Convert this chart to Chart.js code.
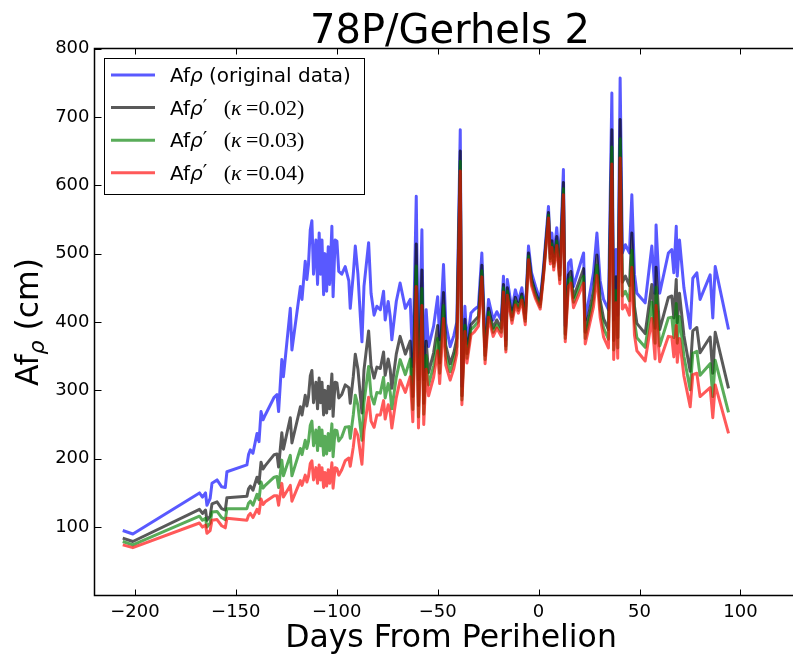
<!DOCTYPE html>
<html>
<head>
<meta charset="utf-8">
<title>78P/Gerhels 2</title>
<script src="https://cdn.jsdelivr.net/npm/chart.js@4.4.0/dist/chart.umd.min.js"></script>
<style>
html, body { margin: 0; padding: 0; background: #fff; overflow: hidden; }
canvas { display: block; }
</style>
</head>
<body>
<canvas id="myChart" width="820" height="656"></canvas>
<script>
// days from perihelion
const days = [-206,-201,-168,-166.5,-165,-164.3,-162.7,-161.8,-159.3,-157,
  -155.2,-154.4,-144.5,-143.7,-142.8,-141.5,-139.5,-138.5,-137.5,-136.5,
  -135.4,-131,-129.6,-128.8,-127.2,-126.4,-123,-122.2,-118,-117.2,
  -115.6,-114.8,-114,-113.1,-112.3,-111.5,-110.3,-109.5,-108.7,-108,
  -107.3,-106.5,-105.8,-105,-104.2,-103.5,-102.4,-101.8,-100.8,-99.9,
  -99,-97.5,-95.8,-94,-93.3,-91.8,-90.8,-89.5,-88.3,-87.5,
  -86.5,-84.2,-83,-81.5,-80.1,-78.4,-76.8,-76,-74.5,-73.5,
  -72.7,-70.5,-68.6,-66,-63.6,-62.3,-60.6,-59.5,-57.8,-56.9,
  -55.7,-54.5,-52,-50,-49,-47.1,-46,-43.8,-42,-40.5,
  -38.8,-38,-36.5,-35.5,-33.5,-32,-29.8,-28.1,-26.5,-24.8,
  -22.5,-20.7,-18.5,-17.4,-16.2,-15.5,-13.2,-11.5,-10,-8.3,
  -6.6,-5,-3.5,-1.5,0.8,2.4,4.9,5.8,6.6,7.5,
  9,10.5,12.3,13.2,14.8,16,17.3,22.3,23.1,27.2,
  28.9,30.5,32.2,34.6,36.3,37.2,38.4,39.2,40.4,41.5,
  43,45,46.2,47.5,48.7,52.8,56.1,57.7,58.2,59.4,
  60,64.3,66,67,68.2,68.7,69.8,72,75.1,76.4,
  78.4,80,85,86.3,87.5,94.1];

// Af rho, original data
const afrho = [95,90,150,144,150,132,142,164,169,159,
  158,181,191,206,213,208,237,225,269,257,
  264,290,294,269,345,320,420,359,452,433,
  489,462,484,535,548,470,520,455,530,470,
  520,440,500,445,510,455,540,437,520,518,
  474,470,481,460,420,470,511,470,408,371,
  452,516,442,410,423,418,445,403,430,408,
  374,430,457,420,433,335,584,316,535,316,
  418,364,394,437,374,484,398,364,380,400,
  681,306,423,369,413,418,423,501,364,433,
  403,415,403,467,374,462,418,447,430,450,
  413,511,472,452,432,479,569,500,530,496,
  538,480,623,394,486,491,452,501,403,472,
  530,460,433,418,735,403,506,410,757,501,
  513,501,586,470,442,428,511,442,542,472,
  442,501,506,472,540,467,520,450,391,464,
  472,433,469,406,481,389];

// Af rho' with kappa = 0.02
const afrhoK02 = [84,79,126,120,125,110,116,134,137,127,
  125,143,145,156,160,154,173,164,195,185,
  190,206,207,188,238,214,260,223,276,264,
  293,277,290,321,329,282,312,273,318,282,
  312,264,300,267,306,273,324,262,312,311,
  289,294,308,304,281,320,353,331,292,267,
  330,387,336,318,334,332,356,322,346,330,
  303,353,379,353,372,291,514,278,476,281,
  372,326,355,395,340,443,366,339,355,376,
  650,292,404,354,396,401,408,483,351,420,
  391,403,391,455,365,450,408,436,421,441,
  405,501,463,443,426,472,560,493,519,486,
  525,468,604,382,469,474,436,478,385,446,
  498,432,405,389,681,373,466,377,696,458,
  467,453,530,423,398,383,455,391,480,415,
  389,436,438,406,462,399,442,380,328,387,
  392,355,378,325,385,303];

// Af rho' with kappa = 0.03
const afrhoK03 = [79,74,116,110,113,100,106,122,123,114,
  111,127,127,135,138,132,148,140,166,157,
  161,173,174,158,198,175,205,175,215,206,
  227,215,225,249,255,219,242,212,246,219,
  242,205,233,207,237,212,251,203,242,241,
  226,232,246,247,230,264,293,278,247,227,
  282,335,293,280,297,296,319,289,310,297,
  273,319,345,323,346,272,482,261,449,265,
  351,308,336,376,325,424,351,327,344,364,
  635,286,395,347,389,393,401,475,345,414,
  385,396,385,450,360,445,403,430,417,437,
  401,496,458,438,422,468,556,489,514,481,
  518,462,595,376,461,465,429,467,376,434,
  483,419,391,375,656,359,446,362,668,438,
  445,431,505,401,377,363,429,369,451,390,
  365,406,407,377,427,369,408,350,301,354,
  357,322,339,291,344,268];

// Af rho' with kappa = 0.04
const afrhoK04 = [74,70,106,100,103,91,95,110,111,102,
  99,113,110,117,120,114,126,120,141,133,
  137,146,146,132,164,144,161,138,168,161,
  176,166,174,193,197,169,187,164,191,169,
  187,158,180,160,184,164,194,157,187,186,
  176,184,197,201,189,217,243,234,208,192,
  241,290,255,246,264,264,285,258,279,268,
  245,289,315,297,320,254,452,245,424,250,
  331,292,319,358,310,405,337,315,332,354,
  621,279,386,340,381,385,394,466,339,407,
  379,391,379,444,356,439,398,425,413,432,
  396,491,453,434,419,465,552,485,509,476,
  512,456,586,371,452,457,421,457,368,422,
  468,407,378,362,631,345,428,347,640,419,
  425,410,480,381,358,343,405,346,424,365,
  342,379,378,349,395,341,376,321,276,323,
  325,291,304,260,308,237];

const xTickValues = [-200, -150, -100, -50, 0, 50, 100];
const yTickValues = [100, 200, 300, 400, 500, 600, 700, 800];

const SANS = '"DejaVu Sans", sans-serif';
const SERIF = '"Liberation Serif", serif';

const colors = ['rgba(0,0,255,0.65)', 'rgba(0,0,0,0.65)', 'rgba(0,128,0,0.65)', 'rgba(255,0,0,0.65)'];

function toPoints(values) {
  return values.map((v, i) => ({ x: days[i], y: v }));
}

function kappaLabel(k) {
  return [
    { t: 'Af', font: '20px ' + SANS },
    { t: 'ρ', font: 'italic 20px ' + SANS },
    { t: '\u2032', font: '20px ' + SANS, dy: -2 },
    { t: '   (', font: '22px ' + SERIF },
    { t: 'κ', font: 'italic 22px ' + SERIF },
    { t: '\u2009=' + k + ')', font: '22px ' + SERIF }
  ];
}

const legendRuns = [
  [
    { t: 'Af', font: '20px ' + SANS },
    { t: 'ρ', font: 'italic 20px ' + SANS },
    { t: ' (original data)', font: '20px ' + SANS }
  ],
  kappaLabel('0.02'),
  kappaLabel('0.03'),
  kappaLabel('0.04')
];

// draws a row of text pieces in different fonts, returns width
function drawRuns(ctx, runs, x, y, measureOnly) {
  let w = 0;
  runs.forEach(r => {
    ctx.font = r.font;
    if (!measureOnly) ctx.fillText(r.t, x + w, y + (r.dy || 0));
    w += ctx.measureText(r.t).width;
  });
  return w;
}

const decorations = {
  id: 'decorations',
  afterDatasetsDraw(chart) {
    const { ctx, chartArea: a, scales: { x, y } } = chart;
    ctx.save();

    // frame (left, top, bottom) - right side falls outside the picture
    ctx.strokeStyle = '#000';
    ctx.lineWidth = 1.5;
    ctx.beginPath();
    ctx.moveTo(a.right, a.top);
    ctx.lineTo(a.left, a.top);
    ctx.lineTo(a.left, a.bottom);
    ctx.lineTo(a.right, a.bottom);
    ctx.stroke();

    // inward tick marks
    ctx.lineWidth = 1;
    ctx.beginPath();
    yTickValues.forEach(v => {
      const py = Math.round(y.getPixelForValue(v)) + 0.5;
      ctx.moveTo(a.left, py);
      ctx.lineTo(a.left + 7, py);
    });
    xTickValues.forEach(v => {
      const px = Math.round(x.getPixelForValue(v)) + 0.5;
      ctx.moveTo(px, a.bottom);
      ctx.lineTo(px, a.bottom - 6);
      ctx.moveTo(px, a.top);
      ctx.lineTo(px, a.top + 6);
    });
    ctx.stroke();

    // legend box
    const lx = 104.5, ly = 58.5, lw = 260, lh = 136;
    ctx.fillStyle = '#fff';
    ctx.fillRect(lx, ly, lw, lh);
    ctx.strokeStyle = '#000';
    ctx.lineWidth = 1;
    ctx.strokeRect(lx, ly, lw, lh);
    ctx.textBaseline = 'alphabetic';
    ctx.textAlign = 'left';
    legendRuns.forEach((runs, i) => {
      const rowY = 75 + i * 32.6;
      ctx.strokeStyle = colors[i];
      ctx.lineWidth = 3;
      ctx.beginPath();
      ctx.moveTo(111, rowY);
      ctx.lineTo(155, rowY);
      ctx.stroke();
      ctx.fillStyle = '#000';
      drawRuns(ctx, runs, 170, rowY + 7);
    });

    // title
    ctx.fillStyle = '#000';
    ctx.textAlign = 'center';
    ctx.font = '40px ' + SANS;
    ctx.fillText('78P/Gerhels 2', 450, 43);

    // x axis title
    ctx.font = '31.5px ' + SANS;
    ctx.fillText('Days From Perihelion', 451, 647);

    // y axis title, with subscript rho
    ctx.textAlign = 'left';
    const yRuns = [
      { t: 'Af', font: '31.5px ' + SANS },
      { t: 'ρ', font: 'italic 22px ' + SANS, dy: 6 },
      { t: ' (cm)', font: '31.5px ' + SANS }
    ];
    ctx.translate(38, (a.top + a.bottom) / 2);
    ctx.rotate(-Math.PI / 2);
    const tw = drawRuns(ctx, yRuns, 0, 0, true);
    drawRuns(ctx, yRuns, -tw / 2, 0);

    ctx.restore();
  }
};

const data = {
  datasets: [
    { label: 'Afρ (original data)', data: toPoints(afrho), borderColor: colors[0], order: 4 },
    { label: "Afρ' (κ=0.02)", data: toPoints(afrhoK02), borderColor: colors[1], order: 3 },
    { label: "Afρ' (κ=0.03)", data: toPoints(afrhoK03), borderColor: colors[2], order: 2 },
    { label: "Afρ' (κ=0.04)", data: toPoints(afrhoK04), borderColor: colors[3], order: 1 }
  ].map(d => Object.assign(d, { borderWidth: 3, pointRadius: 0, tension: 0, fill: false, borderJoinStyle: 'round' }))
};

const config = {
  type: 'line',
  data: data,
  options: {
    responsive: false,
    animation: false,
    layout: { padding: { left: 0, right: 19, top: 48.5, bottom: 0 } },
    plugins: {
      legend: { display: false },
      tooltip: { enabled: false },
      title: { display: false }
    },
    scales: {
      x: {
        type: 'linear',
        min: -220,
        max: 130,
        afterFit: s => { s.height = 60.5; },
        afterBuildTicks: s => { s.ticks = xTickValues.map(v => ({ value: v })); },
        grid: { display: false, drawTicks: false },
        border: { display: false },
        ticks: {
          color: '#000',
          font: { family: SANS, size: 18 },
          padding: 6,
          autoSkip: false,
          maxRotation: 0,
          callback: v => String(v).replace('-', '\u2212')
        }
      },
      y: {
        type: 'linear',
        min: 0,
        max: 800,
        afterFit: s => { s.width = 94.5; },
        afterBuildTicks: s => { s.ticks = yTickValues.map(v => ({ value: v })); },
        grid: { display: false, drawTicks: false },
        border: { display: false },
        ticks: {
          color: '#000',
          font: { family: SANS, size: 18 },
          padding: 5,
          callback: v => String(v)
        }
      }
    }
  },
  plugins: [decorations]
};

const myChart = new Chart(document.getElementById('myChart'), config);
</script>
</body>
</html>
